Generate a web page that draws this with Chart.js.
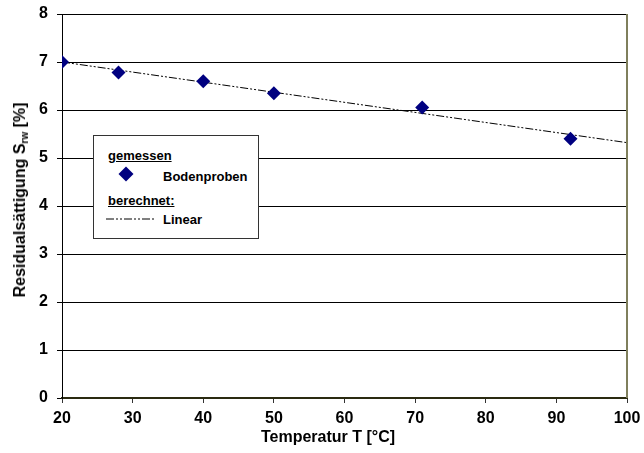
<!DOCTYPE html>
<html>
<head>
<meta charset="utf-8">
<script src="https://cdn.jsdelivr.net/npm/chart.js@4"></script>
<style>
  html, body { margin: 0; padding: 0; background: #fff; }
  #wrap { position: relative; width: 644px; height: 453px; font-family: "Liberation Sans", Arial, sans-serif; }
  canvas { position: absolute; left: 0; top: 0; }
  #ytitle { position: absolute; left: 20px; top: 200px; transform: translate(-50%, -50%) rotate(-90deg);
    white-space: nowrap; font-weight: bold; font-size: 16px; color: #000; }
  #ytitle sub { font-size: 10px; vertical-align: -3px; line-height: 0; }
  #xtitle { position: absolute; left: 328px; top: 437px; transform: translate(-50%, -50%);
    white-space: nowrap; font-weight: bold; font-size: 16px; color: #000; }
  #legend { position: absolute; left: 93px; top: 135px; width: 164px; height: 102px; border: 1px solid #333;
    background: #fff; font-weight: bold; font-size: 13px; color: #000; }
  #legend .t { position: absolute; text-decoration: underline; }
  #legend .l { position: absolute; }
</style>
</head>
<body>
<div id="wrap">
  <canvas id="c" width="644" height="453"></canvas>
  <div id="ytitle">Residualsättigung S<sub>rw</sub> [%]</div>
  <div id="xtitle">Temperatur T [°C]</div>
  <div id="legend">
    <div class="t" style="left:14px;top:12px;">gemessen</div>
    <svg class="l" style="left:23px;top:29px;" width="18" height="18"><polygon points="9,1.5 16.5,9 9,16.5 1.5,9" fill="#000080"/></svg>
    <div class="l" style="left:69px;top:33px;">Bodenproben</div>
    <div class="t" style="left:14px;top:57px;">berechnet:</div>
    <svg class="l" style="left:12px;top:80px;" width="50" height="6"><line x1="0" y1="3" x2="50" y2="3" stroke="#000" stroke-width="1" stroke-dasharray="8,2,2,2,2,2"/></svg>
    <div class="l" style="left:69px;top:76px;">Linear</div>
  </div>
</div>
<script>
// Data
const tempMeasured = [20, 28, 40, 50, 71, 92];
const residualMeasured = [7.0, 6.78, 6.6, 6.35, 6.05, 5.4];
const tempLinear = [20, 100];
const residualLinear = [7.0, 5.32];
const xTickValues = [20, 30, 40, 50, 60, 70, 80, 90, 100];
const yTickValues = [0, 1, 2, 3, 4, 5, 6, 7, 8];

const measuredPts = tempMeasured.map((t, i) => ({ x: t, y: residualMeasured[i] }));
const linearPts = tempLinear.map((t, i) => ({ x: t, y: residualLinear[i] }));

const font = { family: '"Liberation Sans", Arial, sans-serif', weight: 'bold', size: 16 };

const borderPlugin = {
  id: 'plotBorder',
  afterDraw(chart) {
    const { ctx, chartArea: a } = chart;
    ctx.save();
    ctx.strokeStyle = '#7f7f5c';
    ctx.lineWidth = 2;
    ctx.beginPath();
    ctx.moveTo(a.right, a.top);
    ctx.lineTo(a.right, a.bottom);
    ctx.stroke();
    ctx.restore();
  }
};

new Chart(document.getElementById('c'), {
  type: 'scatter',
  data: {
    datasets: [
      {
        label: 'Bodenproben',
        data: measuredPts,
        pointStyle: 'rectRot',
        pointRadius: 7,
        pointHoverRadius: 7,
        backgroundColor: '#000080',
        borderColor: '#000080',
        borderWidth: 0,
        showLine: false,
        order: 0
      },
      {
        label: 'Linear',
        data: linearPts,
        showLine: true,
        borderColor: '#000',
        borderWidth: 1,
        borderDash: [8, 2, 2, 2, 2, 2],
        pointRadius: 0,
        fill: false,
        order: 1
      }
    ]
  },
  options: {
    responsive: false,
    animation: false,
    events: [],
    layout: { padding: { top: 14, right: 17, left: 0, bottom: 0 } },
    plugins: { legend: { display: false }, tooltip: { enabled: false } },
    scales: {
      x: {
        type: 'linear',
        min: 20, max: 100,
        afterBuildTicks: s => { s.ticks = xTickValues.map(v => ({ value: v })); },
        afterFit: s => { s.height = 55; s.paddingLeft = 0; s.paddingRight = 0; },
        ticks: { font, color: '#000', padding: 6, maxRotation: 0 },
        grid: { drawOnChartArea: false, drawTicks: true, tickLength: 5, color: '#333' },
        border: { color: '#2a2a10', width: 2 },
        title: { display: false }
      },
      y: {
        type: 'linear',
        min: 0, max: 8,
        afterBuildTicks: s => { s.ticks = yTickValues.map(v => ({ value: v })); },
        afterFit: s => { s.width = 62; s.paddingTop = 0; s.paddingBottom = 0; },
        ticks: { font, color: '#000', padding: 9 },
        grid: { color: '#000', lineWidth: 1, tickLength: 5 },
        border: { color: '#000', width: 1 }
      }
    }
  },
  plugins: [borderPlugin]
});
</script>
</body>
</html>
